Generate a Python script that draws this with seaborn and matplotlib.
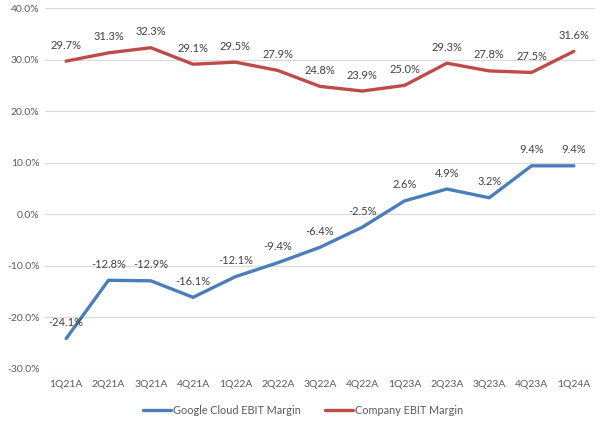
import matplotlib
matplotlib.use("Agg")
import matplotlib.pyplot as plt
import seaborn as sns
import pandas as pd
from matplotlib.ticker import FuncFormatter
from matplotlib.lines import Line2D

quarters = ["1Q21A", "2Q21A", "3Q21A", "4Q21A", "1Q22A", "2Q22A", "3Q22A",
            "4Q22A", "1Q23A", "2Q23A", "3Q23A", "4Q23A", "1Q24A"]
cloud_margin = [-24.1, -12.8, -12.9, -16.1, -12.1, -9.4, -6.4, -2.5, 2.6, 4.9, 3.2, 9.4, 9.4]
company_margin = [29.7, 31.3, 32.3, 29.1, 29.5, 27.9, 24.8, 23.9, 25.0, 29.3, 27.8, 27.5, 31.6]
series_names = ["Google Cloud EBIT Margin", "Company EBIT Margin"]
y_ticks = [-30, -20, -10, 0, 10, 20, 30, 40]

sns.set_theme(style="white")
plt.rcParams["font.family"] = ["Lato", "DejaVu Sans"]

df = pd.DataFrame({
    "quarter": quarters * 2,
    "margin": cloud_margin + company_margin,
    "series": [series_names[0]] * len(quarters) + [series_names[1]] * len(quarters),
})

fig = plt.figure(figsize=(6.02, 4.25), dpi=100)
ax = fig.add_axes([45 / 602, 1 - 369 / 425, 550 / 602, 361 / 425])

colors = ["#4A7EBB", "#BE4B48"]
palette = dict(zip(series_names, colors))
sns.lineplot(data=df, x="quarter", y="margin", hue="series", palette=palette,
             sort=False, linewidth=2.4, ax=ax, legend=False)

ax.set_xlim(-0.5, len(quarters) - 0.5)
ax.set_ylim(-30, 40)
ax.set_yticks(y_ticks)
ax.yaxis.set_major_formatter(FuncFormatter(lambda v, p: f"{v:.1f}%"))
ax.grid(axis="y", color="#D9D9D9", linewidth=0.8)
ax.set_axisbelow(True)
for s in ax.spines.values():
    s.set_visible(False)
ax.tick_params(axis="both", length=0, labelsize=7.5, labelcolor="#595959")
ax.tick_params(axis="x", pad=8)
ax.tick_params(axis="y", pad=4)
ax.set_xlabel("")
ax.set_ylabel("")

for vals in (cloud_margin, company_margin):
    for i, v in enumerate(vals):
        ax.annotate(f"{v:.1f}%", (i, v), xytext=(0, 11.5), textcoords="offset points",
                    ha="center", va="center", fontsize=8, color="#404040")

handles = [Line2D([], [], color=c, linewidth=2.4) for c in colors]
fig.legend(handles, series_names, loc="center", bbox_to_anchor=(303 / 602, 1 - 410 / 425),
           ncol=2, frameon=False, fontsize=7.8, labelcolor="#595959",
           handlelength=2.6, handletextpad=0.15, columnspacing=2.2)

fig.savefig("out.png", dpi=100)
